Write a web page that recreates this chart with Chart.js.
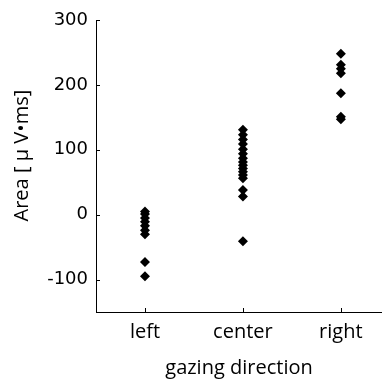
<!DOCTYPE html>
<html>
<head>
<meta charset="utf-8">
<script src="https://cdn.jsdelivr.net/npm/chart.js@4"></script>
<style>
  html, body { margin: 0; padding: 0; background: #fff; overflow: hidden; }
  canvas { display: block; }
</style>
</head>
<body>
<canvas id="chart" width="382" height="382"></canvas>
<script>
// categories on the x axis
const categories = ['left', 'center', 'right'];

// area values per gazing direction
const leftValues = [5, 1, -5, -11, -17, -24, -30, -73, -95];
const centerValues = [131, 123, 116, 109, 101, 94, 87, 81, 76, 71, 66, 61, 56, 38, 28, -41];
const rightValues = [248, 231, 225, 218, 187, 151, 147];

const yTicks = [-100, 0, 100, 200, 300];

// Build scatter points: x = category position (1, 2, 3)
function toPoints(values, index) {
    return values.map(v => ({ x: index + 1, y: v }));
}

const allPoints = []
    .concat(toPoints(leftValues, 0))
    .concat(toPoints(centerValues, 1))
    .concat(toPoints(rightValues, 2));

// Small inward tick marks, MATLAB style
const inwardTicks = {
    id: 'inwardTicks',
    afterDraw(chart) {
        const ctx = chart.ctx;
        const xs = chart.scales.x;
        const ys = chart.scales.y;
        const area = chart.chartArea;
        ctx.save();
        ctx.strokeStyle = '#000';
        ctx.lineWidth = 1;
        ctx.beginPath();
        categories.forEach((c, i) => {
            const px = Math.round(xs.getPixelForValue(i + 1)) + 0.5;
            ctx.moveTo(px, area.bottom);
            ctx.lineTo(px, area.bottom - 4);
        });
        yTicks.forEach(v => {
            const py = Math.round(ys.getPixelForValue(v)) + 0.5;
            ctx.moveTo(area.left, py);
            ctx.lineTo(area.left + 4, py);
        });
        ctx.stroke();
        ctx.restore();
    }
};

new Chart(document.getElementById('chart'), {
    type: 'scatter',
    data: {
        datasets: [{
            data: allPoints,
            pointStyle: 'rectRot',
            pointRadius: 5,
            pointHoverRadius: 5,
            backgroundColor: '#000',
            borderColor: '#000',
            borderWidth: 0
        }]
    },
    options: {
        responsive: false,
        animation: false,
        devicePixelRatio: 1,
        layout: { autoPadding: false, padding: { top: 20, right: 0, left: 0, bottom: 0 } },
        plugins: {
            legend: { display: false },
            tooltip: { enabled: false }
        },
        scales: {
            x: {
                type: 'linear',
                min: 0.5,
                max: 3.42,
                afterFit(scale) {
                    scale.height = 70;
                    scale.paddingLeft = 0;
                    scale.paddingRight = 0;
                },
                afterBuildTicks(scale) {
                    scale.ticks = categories.map((c, i) => ({ value: i + 1 }));
                },
                ticks: {
                    callback: v => categories[v - 1],
                    color: '#000',
                    padding: 8,
                    font: { family: 'Open Sans', size: 20 }
                },
                grid: { display: true, drawOnChartArea: false, drawTicks: false },
                border: { display: true, color: '#000', width: 1 },
                title: {
                    display: true,
                    text: 'gazing direction',
                    color: '#000',
                    padding: { top: 4, bottom: 2 },
                    font: { family: 'Open Sans', size: 20 }
                }
            },
            y: {
                min: -150,
                max: 300,
                afterFit(scale) {
                    scale.width = 96;
                    scale.paddingTop = 0;
                    scale.paddingBottom = 0;
                },
                afterBuildTicks(scale) {
                    scale.ticks = yTicks.map(v => ({ value: v }));
                },
                ticks: {
                    color: '#000',
                    padding: 8,
                    font: { family: 'DejaVu Sans', size: 18 }
                },
                grid: { display: true, drawOnChartArea: false, drawTicks: false },
                border: { display: true, color: '#000', width: 1 },
                title: {
                    display: true,
                    text: '    Area [ μ V•ms]',
                    color: '#000',
                    padding: { top: 10, bottom: 4 },
                    font: { family: 'Open Sans', size: 20 }
                }
            }
        }
    },
    plugins: [inwardTicks]
});
</script>
</body>
</html>
